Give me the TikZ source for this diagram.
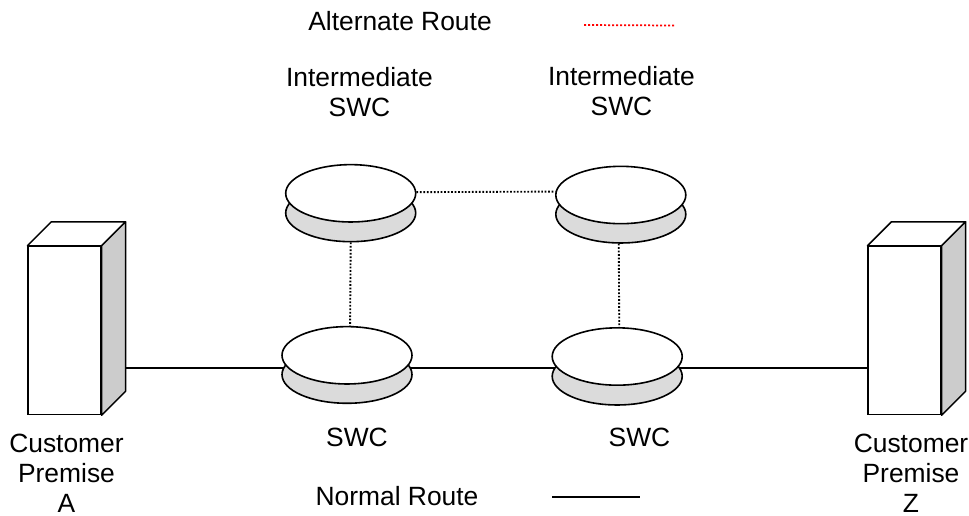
\documentclass[tikz,border=0pt]{standalone}
\usepackage{fontspec}
\setmainfont{Liberation Sans}
\usetikzlibrary{shapes.geometric}
\definecolor{diskgray}{gray}{0.86}
\definecolor{boxgray}{gray}{0.8}
\tikzset{
	disktop/.style={ellipse,draw,line width=1.2pt,fill=white,minimum width=97.5pt,minimum height=43pt,inner sep=0pt},
	diskbase/.style={disktop,fill=diskgray},
	boxfront/.style={rectangle,draw,line width=1.1pt,fill=white,minimum width=54.5pt,minimum height=126pt,inner sep=0pt},
	boxpart/.style={line width=1.1pt,line join=round},
	lbl/.style={align=center,font=\fontsize{19.8}{22.5}\selectfont,inner sep=0pt},
	altline/.style={line width=1.4pt,dash pattern=on 1.3pt off 1.3pt},
	redline/.style={red,line width=1.3pt,dash pattern=on 1.5pt off 1.5pt},
	mainline/.style={line width=1.1pt}
}
\begin{document}
\begin{tikzpicture}[x=0.75pt,y=-0.75pt]
	\useasboundingbox (0,0) rectangle (969,515);
	\coordinate (sw1) at (347,368);
	\coordinate (sw2) at (617,368);
	\coordinate (ca) at (125,368);
	\coordinate (cz) at (868,368);
	\draw[mainline] (ca)--(sw1)--(sw2)--(cz);
	% customer boxes
	\foreach \n/\x in {boxa/64.5,boxz/904.5}{
		\node[boxfront] (\n) at (\x,330.5) {};
		\draw[boxpart,fill=white] (\n.north west)--++(24,-24)--([xshift=18pt,yshift=18pt]\n.north east)--(\n.north east)--cycle;
		\draw[boxpart,fill=boxgray] (\n.north east)--++(24,-24)--([xshift=18pt,yshift=18pt]\n.south east)--(\n.south east)--cycle;
	}
	% switches
	\node[diskbase] (sw1b) at (347,374.6) {};
	\node[disktop] (sw1t) at (347,355.3) {};
	\node[diskbase] (sw2b) at (617.2,376.3) {};
	\node[disktop] (sw2t) at (617.2,356.5) {};
	\node[diskbase] (sw3b) at (350.7,213) {};
	\node[disktop] (sw3t) at (350.7,193.3) {};
	\node[diskbase] (sw4b) at (620.8,214.3) {};
	\node[disktop] (sw4t) at (620.8,195) {};
	\draw[altline] (sw3t.1.4)--(sw4t.177);
	\draw[altline] (sw3b.south)--(sw1t.84);
	\draw[altline] (sw4b.266.7)--(sw2t.86.5);
	% legend
	\coordinate (r1) at (584,25);
	\coordinate (r2) at (675,25.5);
	\coordinate (n1) at (552,497);
	\coordinate (n2) at (640,497);
	\draw[redline] (r1)--(r2);
	\draw[mainline] (n1)--(n2);
	\node[lbl] (alt) at (400,21) {Alternate Route};
	\node[lbl] (norm) at (397,496) {Normal Route};
	\node[lbl] (i1) at (359.5,92) {Intermediate\\SWC};
	\node[lbl] (i2) at (621.5,91) {Intermediate\\SWC};
	\node[lbl] (s1) at (357,437) {SWC};
	\node[lbl] (s2) at (639.5,437) {SWC};
	\node[lbl] (pa) at (66.5,473) {Customer\\Premise\\A};
	\node[lbl] (pz) at (911,473) {Customer\\Premise\\Z};
\end{tikzpicture}
\end{document}
